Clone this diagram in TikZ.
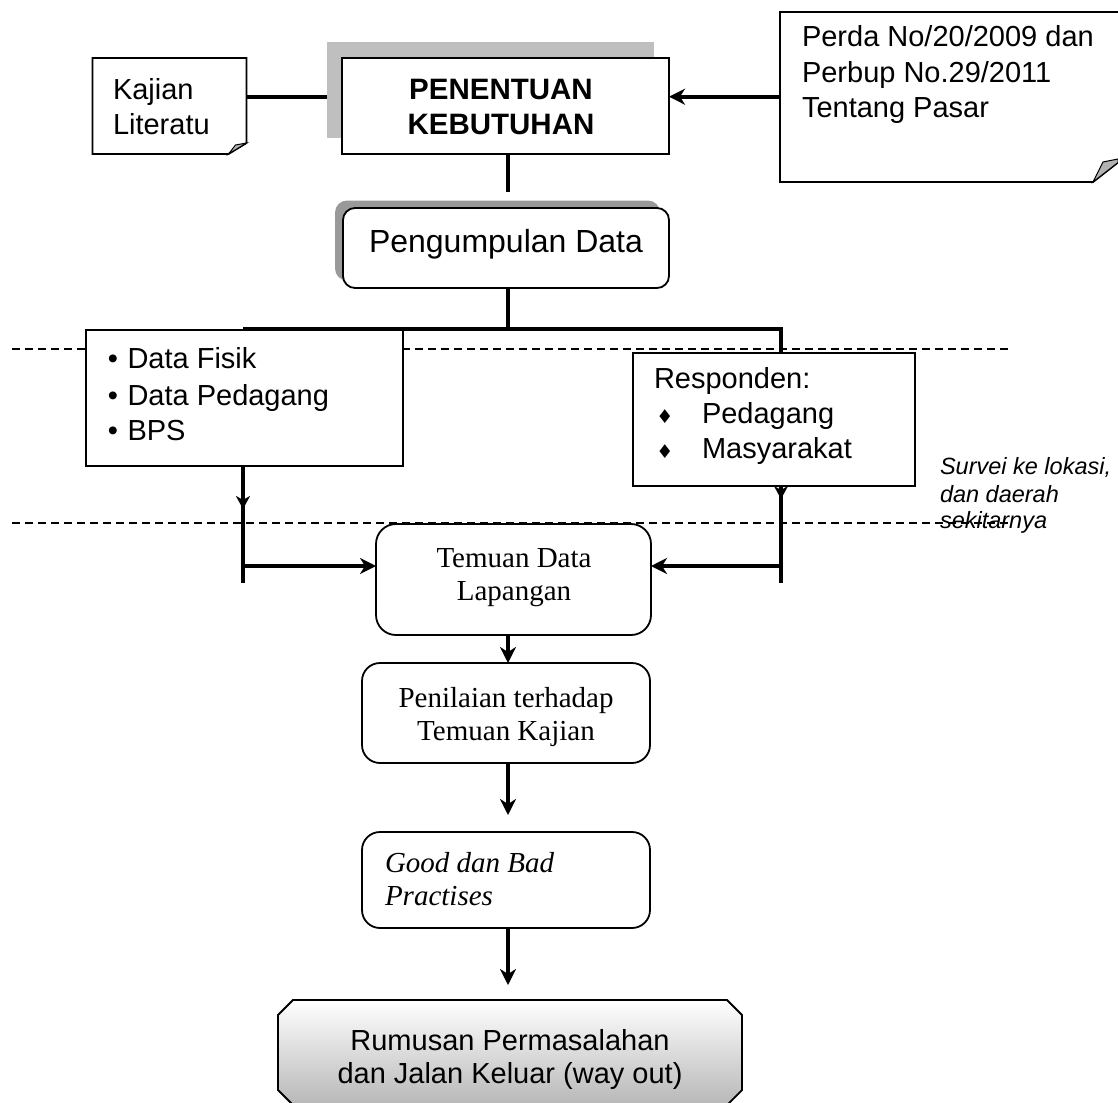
\documentclass[tikz,border=0pt]{standalone}
\usepackage{fontspec}
\setmainfont{Liberation Serif}
\setsansfont{Liberation Sans}
\newfontfamily\symfont{DejaVu Sans}
\usetikzlibrary{arrows.meta}
\begin{document}
\begin{tikzpicture}[x=1pt,y=-1pt,
  every node/.style={inner sep=0pt, outer sep=0pt},
  sz/.style 2 args={minimum width=#1, minimum height=#2},
  boxfill/.style={draw, line width=1.8pt, fill=white},
  rbox/.style={boxfill, rounded corners=#1},
  conn/.style={line width=3.8pt},
  arr/.style={conn, -{Stealth[length=16pt,width=16pt,inset=5pt]}},
  midarr/.style={conn, -{Stealth[length=13pt,width=14pt,inset=4pt]}},
  dashline/.style={line width=1.2pt, dash pattern=on 8pt off 5pt},
  sans/.style={font=\sffamily\fontsize{29}{35}\selectfont},
  serif/.style={font=\rmfamily\fontsize{29}{34}\selectfont},
  bsans/.style={font=\sffamily\bfseries\fontsize{29.5}{35}\selectfont},
  isans/.style={font=\sffamily\itshape\fontsize{23.5}{28}\selectfont},
  iserif/.style={font=\rmfamily\itshape\fontsize{29}{34}\selectfont},
  sym/.style={font=\symfont\fontsize{19}{22}\selectfont},
]
\useasboundingbox (0,0) rectangle (1118,1102);

% dashed guide lines
\coordinate (dl1) at (12,349);
\coordinate (dr1) at (1012,349);
\coordinate (dl2) at (12,523);
\coordinate (dr2) at (1012,523);
\draw[dashline] (dl1) -- (dr1);
\draw[dashline] (dl2) -- (dr2);

% boxes
\node[sz={154pt}{96pt}] (kaj) at (169.5,106) {};
\draw[line width=1.8pt, fill=white] (kaj.north west) -- (kaj.north east) -- ([yshift=11pt]kaj.south east) -- ([xshift=-18pt]kaj.south east) -- (kaj.south west) -- cycle;
\filldraw[fill=black!30, line width=1pt] ([xshift=-18pt]kaj.south east) -- ([xshift=-11pt,yshift=9pt]kaj.south east) -- ([yshift=11pt]kaj.south east) -- cycle;

\node[sz={327pt}{96pt}, fill=black!25] (pensh) at (490.5,90) {};
\node[sz={327pt}{96pt}, boxfill] (pen) at (505.5,106) {};

\node[sz={345pt}{170pt}] (perda) at (952.5,97) {};
\draw[line width=1.8pt, fill=white] (perda.north east) -- (perda.north west) -- (perda.south west) -- ([xshift=-32pt]perda.south east) -- ([yshift=25pt]perda.south east) -- cycle;
\filldraw[fill=black!30, line width=1pt] ([xshift=-32pt]perda.south east) -- ([xshift=-22pt,yshift=20pt]perda.south east) -- ([xshift=-7pt,yshift=23pt]perda.south east) -- ([xshift=-7pt,yshift=19.5pt]perda.south east) -- cycle;

\node[sz={325pt}{80pt}, fill=black!40, rounded corners=12pt] (pgdsh) at (497.5,240.5) {};
\node[sz={326pt}{80pt}, rbox=12pt] (pgd) at (506,248) {};

\node[sz={317pt}{136pt}, boxfill] (data) at (244.5,398) {};
\node[sz={282pt}{133pt}, boxfill] (resp) at (774,419.5) {};

\node[sz={275pt}{111pt}, rbox=20pt] (tem) at (513.5,579.5) {};
\node[sz={288pt}{100pt}, rbox=18pt] (pnl) at (506,713) {};
\node[sz={288pt}{96pt}, rbox=18pt] (good) at (506,880) {};

\node[sz={464pt}{105pt}] (fin) at (510,1052.5) {};
\path[draw, line width=1.8pt, top color=white, bottom color=black!28]
  ([xshift=15pt]fin.north west) -- ([xshift=-15pt]fin.north east) -- ([yshift=-15pt]fin.north east)
  -- ([yshift=15pt]fin.south east) -- ([xshift=-15pt]fin.south east) -- ([xshift=15pt]fin.south west)
  -- ([yshift=15pt]fin.south west) -- ([yshift=-15pt]fin.north west) -- cycle;

% connectors
\coordinate (ly) at (0,96.7);
\coordinate (vx) at (508,0);
\draw[conn] (kaj.east |- ly) -- (pensh.west |- ly);
\draw[arr] (perda.west |- ly) -- (pen.east |- ly);
\draw[conn] (pen.south -| vx) -- ([yshift=16pt]pgd.north -| vx);
\coordinate (jl) at (243,329);
\coordinate (jr) at (781,329);
\draw[conn] (pgd.south -| vx) -- (jl -| vx);
\draw[conn] (jl) -- (jr) -- (jr |- resp.north);
\coordinate (lb) at (243,583);
\coordinate (rb) at (781,583);
\coordinate (ay) at (0,566);
\draw[conn] (data.south -| lb) -- (lb);
\draw[midarr] (data.south -| lb) -- ++(0,43);
\draw[arr] (lb |- ay) -- (tem.west |- ay);
\draw[conn] (resp.south -| rb) -- (rb);
\draw[midarr] (resp.south -| rb) -- ++(0,13);
\draw[arr] ([xshift=2pt]rb |- ay) -- (tem.east |- ay);
\draw[arr] (tem.south -| vx) -- (pnl.north -| vx);
\draw[arr] (pnl.south -| vx) -- ([yshift=17pt]good.north -| vx);
\draw[arr] (good.south -| vx) -- ([yshift=15pt]fin.north -| vx);

% texts
\node[sans, anchor=base west] (kajt1) at (113,100) {Kajian};
\node[sans, anchor=base west] (kajt2) at (113,135) {Literatu};
\node[bsans, anchor=base] (pent1) at (501,100) {PENENTUAN};
\node[bsans, anchor=base] (pent2) at (501,135) {KEBUTUHAN};
\node[sans, anchor=base west] (pert1) at (802,47) {Perda No/20/2009 dan};
\node[sans, anchor=base west] (pert2) at (802,83) {Perbup No.29/2011};
\node[sans, anchor=base west] (pert3) at (802,118) {Tentang Pasar};
\node[sans, font=\sffamily\fontsize{32}{38}\selectfont, anchor=base] (pgdt) at (506,252) {Pengumpulan Data};
\node[sans, anchor=base] (b1) at (113,368) {•};
\node[sans, anchor=base] (b2) at (113,405) {•};
\node[sans, anchor=base] (b3) at (113,440) {•};
\node[sans, anchor=base west] (dt1) at (127.5,368) {Data Fisik};
\node[sans, anchor=base west] (dt2) at (127.5,405) {Data Pedagang};
\node[sans, anchor=base west] (dt3) at (127.5,440) {BPS};
\node[sans, anchor=base west] (rt0) at (654,388) {Responden:};
\node[sym, anchor=base] (d1) at (665,423) {♦};
\node[sym, anchor=base] (d2) at (665,458) {♦};
\node[sans, anchor=base west] (rt1) at (702,423) {Pedagang};
\node[sans, anchor=base west] (rt2) at (702,458) {Masyarakat};
\node[isans, anchor=base west] (sv1) at (940,474) {Survei ke lokasi,};
\node[isans, anchor=base west] (sv2) at (940,502) {dan daerah};
\node[isans, anchor=base west] (sv3) at (940,528) {sekitarnya};
\node[serif, anchor=base] (tt1) at (514,567) {Temuan Data};
\node[serif, anchor=base] (tt2) at (514,600) {Lapangan};
\node[serif, anchor=base] (pt1) at (506,707) {Penilaian terhadap};
\node[serif, anchor=base] (pt2) at (506,740) {Temuan Kajian};
\node[iserif, anchor=base west] (gt1) at (385,872) {Good dan Bad};
\node[iserif, anchor=base west] (gt2) at (385,905) {Practises};
\node[sans, anchor=base] (ft1) at (510,1050) {Rumusan Permasalahan};
\node[sans, anchor=base] (ft2) at (510,1083) {dan Jalan Keluar (way out)};
\end{tikzpicture}
\end{document}
